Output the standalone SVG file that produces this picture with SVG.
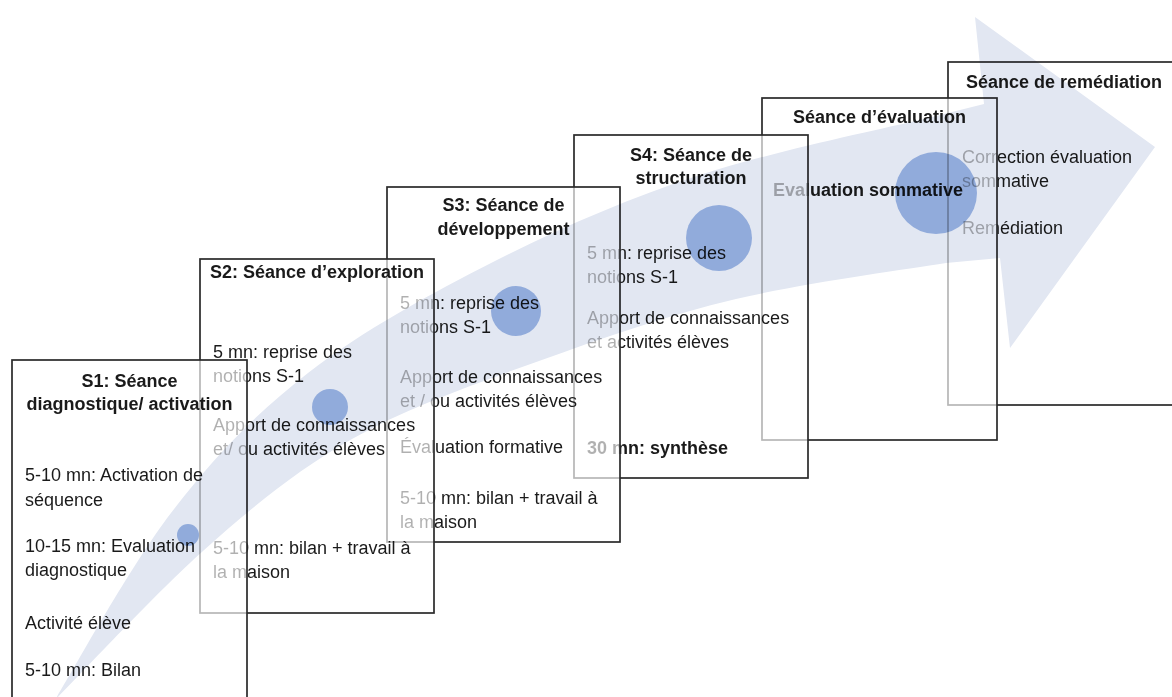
<svg xmlns="http://www.w3.org/2000/svg" width="1172" height="697" viewBox="0 0 1172 697">
<style>
.box{fill:#fff;fill-opacity:0.66;stroke:#2a2a2a;stroke-width:1.7}
text{font-family:"Liberation Sans",Arial,sans-serif;font-size:18px;fill:#1a1a1a}
.b{font-weight:bold}
.c{text-anchor:middle}
.band{fill:#e2e7f2}
.dot{fill:#91abdb}
</style>
<rect width="1172" height="697" fill="#fff"/>

<g id="node-remediation">
<rect class="box" x="948" y="62" width="232" height="343"/>
<text class="b c" x="1064" y="88">Séance de remédiation</text>
<text x="962" y="163">Correction évaluation</text>
<text x="962" y="187">sommative</text>
<text x="962" y="234">Remédiation</text>
</g>

<g id="node-evaluation">
<rect class="box" x="762" y="98" width="235" height="342"/>
<text class="b c" x="879.5" y="123">Séance d’évaluation</text>
<text class="b" x="773" y="196">Evaluation sommative</text>
</g>

<g id="node-s4">
<rect class="box" x="574" y="135" width="234" height="343"/>
<text class="b c" x="691" y="161">S4: Séance de</text>
<text class="b c" x="691" y="184">structuration</text>
<text x="587" y="259">5 mn: reprise des</text>
<text x="587" y="283">notions S-1</text>
<text x="587" y="324">Apport de connaissances</text>
<text x="587" y="348">et activités élèves</text>
<text class="b" x="587" y="454">30 mn: synthèse</text>
</g>

<g id="node-s3">
<rect class="box" x="387" y="187" width="233" height="355"/>
<text class="b c" x="503.5" y="211">S3: Séance de</text>
<text class="b c" x="503.5" y="235">développement</text>
<text x="400" y="309">5 mn: reprise des</text>
<text x="400" y="333">notions S-1</text>
<text x="400" y="383">Apport de connaissances</text>
<text x="400" y="407">et / ou activités élèves</text>
<text x="400" y="453">Évaluation formative</text>
<text x="400" y="504">5-10 mn: bilan + travail à</text>
<text x="400" y="528">la maison</text>
</g>

<g id="node-s2">
<rect class="box" x="200" y="259" width="234" height="354"/>
<text class="b c" x="317" y="278">S2: Séance d’exploration</text>
<text x="213" y="358">5 mn: reprise des</text>
<text x="213" y="382">notions S-1</text>
<text x="213" y="431">Apport de connaissances</text>
<text x="213" y="455">et/ ou activités élèves</text>
<text x="213" y="554">5-10 mn: bilan + travail à</text>
<text x="213" y="578">la maison</text>
</g>

<g id="node-s1">
<rect class="box" x="12" y="360" width="235" height="345"/>
<text class="b c" x="129.5" y="387">S1: Séance</text>
<text class="b c" x="129.5" y="410">diagnostique/ activation</text>
<text x="25" y="481">5-10 mn: Activation de</text>
<text x="25" y="506">séquence</text>
<text x="25" y="552">10-15 mn: Evaluation</text>
<text x="25" y="576">diagnostique</text>
<text x="25" y="629">Activité élève</text>
<text x="25" y="676">5-10 mn: Bilan</text>
</g>

<g id="connectors" style="mix-blend-mode:multiply">
<path class="band" d="M55,700 C74,669 129,568 171,513 C213,458 254,415 308,373 C362,331 430,294 495,261 C560,228 629,198 700,175 C771,152 877,130 924,119 L984,104 L975,17 L1155,147 L1010,348 L1000,258 L946,263 C902,270 804,283 736,299 C668,315 603,338 539,361 C475,384 408,407 352,439 C296,471 252,507 203,551 C154,595 80,675 55,700 Z"/>
<circle class="dot" cx="188" cy="535" r="11"/>
<circle class="dot" cx="330" cy="407" r="18"/>
<circle class="dot" cx="516" cy="311" r="25"/>
<circle class="dot" cx="719" cy="238" r="33"/>
<circle class="dot" cx="936" cy="193" r="41"/>
</g>
</svg>
